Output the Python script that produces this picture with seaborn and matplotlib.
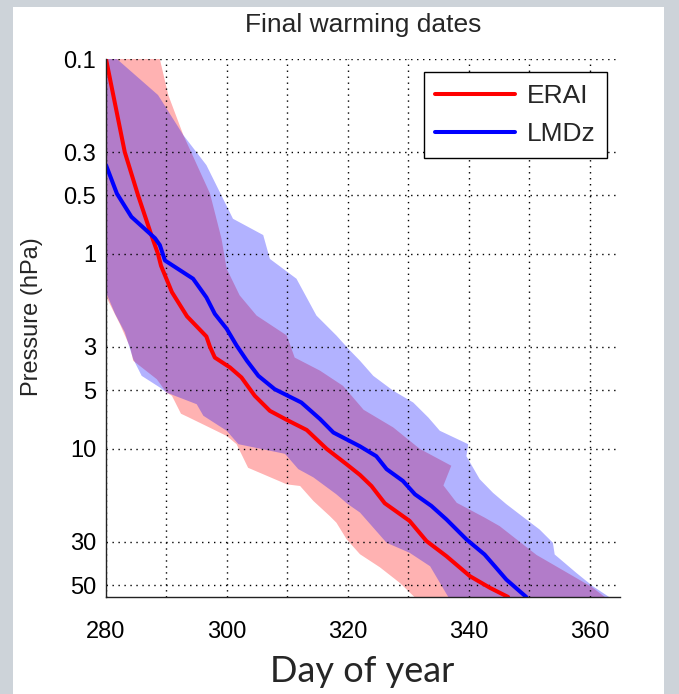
import matplotlib
matplotlib.use("Agg")
import matplotlib.pyplot as plt
import seaborn as sns
from matplotlib.patches import Rectangle
from matplotlib.ticker import FixedLocator, NullLocator

# ---------------- data ----------------
erai_day = [280.0, 283.1, 285.3, 287.5, 288.6, 289.1, 290.9, 293.4, 296.6, 297.2, 298.0,
            300.5, 302.4, 304.6, 307.1, 309.9, 313.2, 316.5, 319.8, 322.0, 323.9, 326.1,
            330.2, 333.0, 336.3, 340.2, 343.5, 346.5]
erai_p = [0.1, 0.30, 0.50, 0.80, 1.0, 1.15, 1.57, 2.09, 2.65, 3.0, 3.4,
          3.82, 4.3, 5.34, 6.38, 7.1, 8.0, 10.0, 12.0, 13.6, 15.5, 19.0,
          23.4, 29.7, 35.5, 45.0, 51.6, 57.5]

lmdz_day = [280.0, 281.8, 284.2, 288.1, 288.9, 289.75, 294.4, 296.6, 298.0, 299.95, 301.6,
            303.3, 305.2, 307.9, 312.3, 315.4, 317.6, 322.0, 324.7, 326.4, 329.1, 331.1,
            333.8, 336.3, 339.6, 342.6, 344.3, 346.2, 349.5]
lmdz_p = [0.35, 0.49, 0.645, 0.83, 0.90, 1.08, 1.34, 1.67, 2.03, 2.42, 2.95,
          3.53, 4.22, 4.94, 5.78, 7.03, 8.24, 9.7, 10.9, 12.7, 14.6, 17.1,
          19.6, 23.0, 29.1, 34.8, 40.0, 46.8, 57.5]

# spread bands (early / late edges)
erai_lo_day = [275.0, 276.0, 280.0, 282.3, 284.0, 284.5, 288.4, 290.0, 290.9, 292.4, 293.5,
               297.7, 299.95, 301.6, 303.5, 309.9, 312.1, 314.3, 317.0, 318.1, 319.8, 322.0,
               325.3, 328.6, 331.0]
erai_lo_p = [0.1, 1.2, 1.65, 2.29, 3.01, 3.53, 4.39, 5.14, 5.34, 6.6, 6.85,
             7.93, 8.58, 9.46, 12.5, 15.2, 15.5, 18.5, 22.1, 23.9, 29.1, 34.7,
             40.5, 48.7, 57.5]
erai_hi_day = [288.9, 290.3, 292.8, 297.2, 299.1, 299.95, 302.1, 304.9, 309.9, 311.2, 315.4,
               319.2, 322.6, 327.5, 331.9, 337.1, 335.8, 338.0, 342.6, 345.1, 351.2, 360.3, 362.5]
erai_hi_p = [0.1, 0.153, 0.246, 0.49, 0.835, 1.19, 1.63, 2.07, 2.62, 3.4, 3.97,
             4.75, 6.3, 7.76, 10.0, 12.2, 15.4, 18.9, 22.5, 24.9, 35.0, 51.0, 57.5]

lmdz_lo_day = [275.0, 276.0, 280.1, 281.5, 283.1, 284.5, 285.9, 288.9, 290.0, 295.0, 296.1,
               299.95, 301.9, 309.6, 311.8, 314.3, 318.1, 320.0, 322.0, 326.4, 330.2, 333.6, 336.6]
lmdz_lo_p = [0.1, 1.2, 1.6, 2.03, 2.52, 3.46, 4.22, 4.84, 5.14, 5.9, 6.76,
             8.07, 9.46, 10.6, 12.7, 14.0, 17.1, 19.2, 21.2, 30.3, 34.1, 40.0, 57.5]
lmdz_hi_day = [281.8, 288.6, 292.8, 296.6, 301.0, 306.0, 307.1, 311.5, 314.8, 318.1, 320.1,
               322.0, 324.2, 327.5, 330.8, 333.3, 335.2, 339.9, 339.6, 341.8, 344.0, 346.2,
               349.5, 351.7, 353.9, 354.2, 357.8, 360.5, 363.2]
lmdz_hi_p = [0.1, 0.153, 0.246, 0.35, 0.66, 0.80, 1.06, 1.34, 2.07, 2.62, 3.07,
             3.53, 4.22, 5.03, 5.78, 6.9, 8.07, 9.46, 10.9, 14.3, 16.8, 19.2,
             23.0, 25.9, 30.3, 34.8, 43.3, 50.6, 57.5]

p_ticks = [0.1, 0.3, 0.5, 1, 3, 5, 10, 30, 50]
p_tick_labels = ["0.1", "0.3", "0.5", "1", "3", "5", "10", "30", "50"]
day_ticks = [280, 290, 300, 310, 320, 330, 340, 350, 360]
day_tick_labels = ["280", "", "300", "", "320", "", "340", "", "360"]

# ---------------- figure ----------------
sns.set_theme(style="white")
plt.rcParams["font.family"] = ["Liberation Sans", "DejaVu Sans"]

W, H = 679, 694
fig = plt.figure(figsize=(W / 100, H / 100), dpi=100, facecolor="#cdd3d9")
panel = Rectangle((13 / W, 0), (664 - 13) / W, 1 - 7 / H,
                  transform=fig.transFigure, facecolor="white",
                  edgecolor="none", zorder=-10)
fig.add_artist(panel)
ax = fig.add_axes([106 / W, 1 - 597 / H, 514 / W, 538 / H])
ax.set_zorder(1)
ax.set_facecolor("white")

# bands
ax.fill(erai_lo_day + erai_hi_day[::-1], erai_lo_p + erai_hi_p[::-1],
        color="red", alpha=0.3, lw=0, zorder=1)
ax.fill(lmdz_lo_day + lmdz_hi_day[::-1], lmdz_lo_p + lmdz_hi_p[::-1],
        color="blue", alpha=0.3, lw=0, zorder=1.1)

# mean lines
sns.lineplot(x=erai_day, y=erai_p, sort=False, estimator=None, color="red",
             lw=2.9, ax=ax, label="ERAI", zorder=3)
sns.lineplot(x=lmdz_day, y=lmdz_p, sort=False, estimator=None, color="blue",
             lw=2.9, ax=ax, label="LMDz", zorder=3.1)

ax.set_yscale("log")
ax.set_xlim(280, 365)
ax.set_ylim(57.5, 0.1)
ax.yaxis.set_major_locator(FixedLocator(p_ticks))
ax.set_yticklabels(p_tick_labels)
ax.yaxis.set_minor_locator(NullLocator())
ax.set_xticks(day_ticks)
ax.set_xticklabels(day_tick_labels)

ax.set_axisbelow(False)
ax.grid(True, color="black", linestyle=(0, (1, 3.3)), linewidth=1.0)
for s in ["top", "right"]:
    ax.spines[s].set_visible(False)
for s in ["left", "bottom"]:
    ax.spines[s].set_color("#222222")
    ax.spines[s].set_linewidth(1.0)
    ax.spines[s].set_zorder(4)

ax.tick_params(axis="both", direction="in", length=4, width=1, colors="#222222",
               labelcolor="black", labelsize=17)
ax.tick_params(axis="x", pad=17)
ax.tick_params(axis="y", pad=7)

ax.set_title("Final warming dates", fontsize=19, y=1.063, va="center", pad=0)
ax.set_ylabel("Pressure (hPa)", fontsize=17, va="center")
ax.yaxis.set_label_coords(-0.144, 0.522)
ax.set_xlabel("Day of year", fontsize=26, va="center", family=["Lato", "DejaVu Sans"])
ax.xaxis.set_label_coords(0.498, -0.139)

leg = ax.legend(loc="upper right", bbox_to_anchor=(0.975, 0.976), borderaxespad=0,
                frameon=True, fancybox=False, edgecolor="black", framealpha=1,
                fontsize=19, handlelength=3.0, handletextpad=0.45, labelspacing=0.55,
                borderpad=0.45)
leg.get_frame().set_linewidth(1.0)
leg.set_zorder(5)

fig.savefig("out.png", dpi=100, facecolor=fig.get_facecolor())
